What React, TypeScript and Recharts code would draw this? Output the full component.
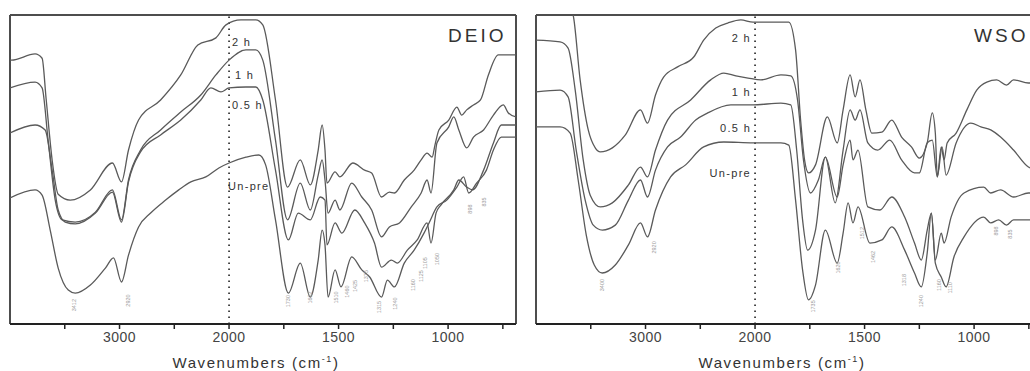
import React from "react";
import { LineChart, Line, XAxis, YAxis, ReferenceLine, ReferenceDot } from "recharts";

// wavenumber axis is split: 4000-2000 at half scale, 2000-690 at full scale
const toT = (w: number) => (w >= 2000 ? (4000 - w) / 2 : 1000 + (2000 - w));
const fromT = (t: number) => (t <= 1000 ? 4000 - 2 * t : 2000 - (t - 1000));
const T_MAX = toT(690);

const tickWaves = [3500, 3000, 2500, 2000, 1750, 1500, 1250, 1000, 750];
const labelledWaves = [3000, 2000, 1500, 1000];

// [wavenumber, transmittance a.u.]
const deio2h: [number, number][] = [
  [4000, 85.4], [3985, 85.4], [3771, 87.4], [3707, 86], [3670, 72.8], [3615, 53], [3560, 42], [3450, 40.1],
  [3266, 43.4], [3065, 52.1], [2982, 46], [2918, 56.3], [2826, 66], [2625, 72.5], [2441, 80.6], [2285, 90.3],
  [2120, 92.6], [2028, 96.8], [1946, 98.4], [1878, 98.4], [1846, 96.8], [1788, 72.5], [1733, 44.3], [1675, 53.1],
  [1629, 45], [1593, 56.3], [1575, 64.4], [1562, 56.3], [1553, 45.6], [1516, 49.2], [1494, 47.6], [1435, 52.1],
  [1381, 49.8], [1349, 48.9], [1304, 41.1], [1268, 42.7], [1245, 42.4], [1200, 46.6], [1155, 49.8], [1123, 53.1],
  [1096, 55.3], [1073, 54], [1060, 57.9], [1042, 62.8], [997, 66], [960, 70.2], [938, 67.6], [915, 69.3],
  [884, 70.9], [852, 72.5], [816, 80.6], [771, 87.1], [690, 87.1],
];
const deio1h: [number, number][] = [
  [4000, 76.4], [3771, 78.3], [3707, 76.4], [3652, 59.5], [3587, 40.1], [3523, 33.7], [3404, 33], [3220, 36.2],
  [3065, 43.4], [2982, 33.7], [2918, 46.6], [2808, 56.3], [2625, 62.8], [2441, 68.6], [2258, 74.1], [2120, 80.6],
  [2000, 85.4], [1923, 88.7], [1878, 88.7], [1846, 85.4], [1788, 59.5], [1733, 33.7], [1675, 45.6], [1629, 36.9],
  [1593, 48.2], [1575, 53.1], [1562, 46.6], [1548, 35.9], [1516, 40.1], [1494, 36.9], [1440, 45.6], [1394, 41.1],
  [1349, 36.9], [1304, 28.2], [1268, 31.4], [1222, 32.7], [1168, 37.9], [1123, 42.4], [1096, 46.6], [1078, 42.4],
  [1051, 58.6], [997, 63.8], [974, 67], [951, 62.8], [915, 57], [884, 60.5], [838, 62.8], [793, 67.6],
  [748, 70.9], [725, 68.3], [690, 67],
];
const deio05h: [number, number][] = [
  [4000, 61.8], [3771, 64.4], [3679, 62.8], [3615, 49.8], [3560, 36.9], [3496, 33], [3404, 32.4], [3220, 35.9],
  [3065, 42.7], [2982, 33], [2918, 46], [2808, 55.7], [2625, 61.2], [2441, 66], [2258, 72.5], [2166, 76.4],
  [2074, 75.1], [2000, 76.4], [1923, 76.7], [1878, 76.7], [1846, 72.5], [1788, 49.8], [1729, 27.2], [1684, 35.9],
  [1629, 33.7], [1584, 41.1], [1562, 40.1], [1553, 25.6], [1516, 32.7], [1485, 29.4], [1426, 36.9], [1381, 32.7],
  [1336, 26.2], [1304, 18.4], [1259, 20.7], [1232, 19.7], [1186, 23.9], [1141, 27.2], [1096, 32.7], [1078, 26.2],
  [1055, 35.9], [1033, 38.5], [974, 43.4], [951, 46.6], [915, 44.3], [888, 43.4], [838, 49.8], [793, 58.6],
  [757, 64.4], [690, 64.4],
];
const deioUnpre: [number, number][] = [
  [4000, 40.8], [3771, 43.4], [3707, 41.7], [3633, 30.4], [3560, 18.1], [3468, 11], [3404, 10], [3266, 12.6],
  [3129, 18.1], [3055, 21.4], [2982, 13.6], [2918, 22.3], [2826, 31.4], [2716, 35.9], [2579, 40.1], [2459, 43.4],
  [2349, 46], [2212, 47.6], [2093, 50.5], [2000, 52.1], [1923, 54], [1864, 54.7], [1833, 51.5], [1788, 33.7],
  [1729, 10], [1675, 19.7], [1629, 8.7], [1593, 20.7], [1575, 30.4], [1562, 25.6], [1548, 8.7], [1516, 17.5],
  [1489, 12], [1440, 21.7], [1394, 17.5], [1358, 15.2], [1304, 8.7], [1277, 14.2], [1245, 12], [1200, 19.7],
  [1155, 23.9], [1110, 29.4], [1087, 32.7], [1051, 37.9], [1006, 40.1], [960, 44.3], [929, 47.6], [906, 42.4],
  [870, 45.6], [825, 49.8], [793, 56.3], [757, 60.5], [690, 60.5],
];

const wso2h: [number, number][] = [
  [4000, 122], [3826, 112], [3661, 100], [3597, 79], [3523, 62.8], [3459, 57], [3413, 55.7], [3303, 57],
  [3184, 61.2], [3046, 69.3], [2982, 65], [2909, 74.1], [2835, 79.9], [2707, 83.2], [2560, 86.4], [2469, 91.9],
  [2359, 95.8], [2249, 97.4], [2130, 98.4], [2018, 97.7], [1950, 97.7], [1846, 97.7], [1815, 88.7], [1792, 66],
  [1774, 53.1], [1756, 48.9], [1724, 51.5], [1670, 67], [1625, 58.6], [1598, 69.3], [1566, 80.6], [1543, 73.5],
  [1521, 79], [1494, 69.3], [1467, 61.8], [1421, 62.1], [1376, 66], [1331, 60.5], [1286, 57.3], [1250, 53.7],
  [1214, 58.6], [1191, 68.3], [1177, 61.8], [1168, 47.6], [1150, 57.3], [1137, 53.1], [1123, 58.6], [1082, 61.8],
  [1033, 69.3], [988, 75.7], [942, 78.3], [897, 79], [852, 77.3], [820, 79], [752, 78], [690, 78],
];
const wso1h: [number, number][] = [
  [4000, 91.9], [3780, 91.3], [3707, 89.3], [3642, 75.7], [3569, 53.1], [3505, 41.7], [3413, 37.9], [3303, 39.2],
  [3156, 45], [3046, 50.8], [2982, 47.6], [2909, 56.3], [2799, 66], [2588, 72.5], [2405, 79], [2285, 81.2],
  [2175, 80.3], [2064, 79.6], [1973, 79], [1882, 80.6], [1837, 80.3], [1806, 72.5], [1779, 53.1], [1747, 42.4],
  [1711, 46.6], [1679, 54], [1634, 39.2], [1598, 56.3], [1566, 69.3], [1543, 66], [1521, 69.3], [1485, 58.6],
  [1440, 56.3], [1385, 59.5], [1331, 53.1], [1272, 48.9], [1250, 48.9], [1214, 58.6], [1191, 59.5], [1168, 47.6],
  [1146, 57.3], [1128, 48.2], [1082, 58.6], [1015, 65], [969, 63.8], [924, 62.8], [879, 60.5], [820, 56.3],
  [752, 50.8], [690, 49.5],
];
const wso05h: [number, number][] = [
  [4000, 75.1], [3780, 75.7], [3707, 73.5], [3633, 56.3], [3551, 40.1], [3477, 32], [3395, 30.4], [3276, 32],
  [3156, 40.1], [3046, 46.6], [2982, 41.1], [2909, 49.8], [2799, 57.3], [2680, 60.5], [2542, 66], [2432, 68.3],
  [2221, 70.9], [2018, 70.9], [1882, 71.5], [1837, 70.9], [1810, 56.3], [1783, 33.7], [1760, 23.9], [1724, 30.4],
  [1679, 54], [1625, 41.1], [1598, 51.5], [1566, 59.5], [1553, 53.1], [1530, 56.3], [1485, 37.9], [1430, 36.9],
  [1376, 41.1], [1317, 34.6], [1272, 26.2], [1241, 20.7], [1214, 30.4], [1195, 35.9], [1177, 20.7], [1150, 29.4],
  [1137, 26.2], [1105, 34.6], [1046, 42.4], [956, 44.3], [924, 42.4], [879, 43.4], [820, 41.1], [752, 42.4],
  [690, 42],
];
const wsoUnpre: [number, number][] = [
  [4000, 63.8], [3780, 63.8], [3688, 61.8], [3615, 46.6], [3541, 28.8], [3468, 19.1], [3395, 16.5], [3276, 19.1],
  [3156, 25.6], [3046, 32.7], [2982, 28.2], [2909, 36.9], [2771, 47.6], [2634, 51.5], [2469, 57.3], [2285, 58.9],
  [2018, 58.6], [1882, 58.6], [1846, 57.9], [1815, 40.1], [1783, 17.5], [1756, 7.8], [1724, 12.6], [1679, 30.4],
  [1625, 19.7], [1598, 29.4], [1575, 39.2], [1553, 32.7], [1530, 37.9], [1476, 26.2], [1421, 27.2], [1376, 31.4],
  [1317, 23.9], [1272, 16.5], [1241, 12], [1214, 23], [1195, 35.9], [1177, 19.7], [1150, 15.2], [1128, 12],
  [1092, 21.7], [1046, 28.2], [956, 34.6], [924, 32.7], [888, 33.7], [852, 32], [820, 33.7], [752, 33.7],
  [690, 33.5],
];

const curveNames = ["2 h", "1 h", "0.5 h", "Un-pre"];
const deioLabelLevels = [91.3, 80.6, 70.9, 44.7];
const wsoLabelLevels = [92.6, 75.1, 63.4, 48.9];

// small peak marks under the bands: [wavenumber, level]
const deioPeaks: [number, number][] = [
  [3412, 6.1], [2920, 7.6], [1730, 7.4], [1632, 8.6], [1510, 8.6], [1460, 10.5], [1425, 12.3], [1375, 15.5],
  [1315, 5.5], [1240, 6.6], [1160, 12.6], [1125, 15.5], [1105, 19.7], [1050, 21], [898, 37.2], [835, 39.5],
];
const wsoPeaks: [number, number][] = [
  [3400, 12.6], [2920, 24.8], [1735, 5.7], [1620, 18.3], [1512, 29.4], [1462, 21.7], [1318, 14.2], [1240, 7.4],
  [1160, 12.6], [1110, 11.7], [898, 30.1], [835, 29.1],
];

const FONT = "'Liberation Sans', Arial, sans-serif";
const build = (pts: [number, number][]) => pts.map(([w, v]) => ({ t: toT(w), v }));

const AxisTitle = (props: any) => {
  const vb = props.viewBox;
  if (!vb) return null;
  return (
    <text x={vb.x + vb.width / 2 - 7} y={vb.y + 44} textAnchor="middle" fontFamily={FONT} fontSize={15} letterSpacing={1.6} fill="#333">
      Wavenumbers (cm
      <tspan dy={-6} fontSize={9}>-1</tspan>
      <tspan dy={6}>)</tspan>
    </text>
  );
};

interface PanelProps {
  title: string;
  series: [number, number][][];
  levels: number[];
  peaks: [number, number][];
  side: "left" | "right";
}

function Panel({ title, series, levels, peaks, side }: PanelProps) {
  return (
    <LineChart width={520} height={371} margin={{ top: 15, right: 4, left: 10, bottom: 17 }}>
      <XAxis
        dataKey="t"
        type="number"
        domain={[0, T_MAX]}
        allowDataOverflow
        ticks={tickWaves.map(toT)}
        tickFormatter={(t: number) => {
          const w = Math.round(fromT(t));
          return labelledWaves.includes(w) ? String(w) : "";
        }}
        tick={{ fontSize: 14, fill: "#444", fontFamily: FONT, letterSpacing: 0.5 }}
        tickSize={5}
        tickMargin={3}
        height={30}
        axisLine={{ stroke: "#222", strokeWidth: 2 }}
        tickLine={{ stroke: "#222", strokeWidth: 1.5 }}
        label={{ content: AxisTitle }}
      />
      <YAxis type="number" domain={[0, 100]} allowDataOverflow width={0} tick={false} tickLine={false} axisLine={false} />
      {/* frame */}
      <ReferenceLine y={100} stroke="#4d4d4d" strokeWidth={2} />
      <ReferenceLine x={0} stroke="#4d4d4d" strokeWidth={2} />
      <ReferenceLine x={T_MAX} stroke="#4d4d4d" strokeWidth={2} />
      <ReferenceLine x={toT(2000)} stroke="#111" strokeWidth={1.5} strokeDasharray="1.5 4.5" />
      {series.map((pts, i) => (
        <Line
          key={curveNames[i]}
          data={build(pts)}
          dataKey="v"
          type="monotoneX"
          stroke="#5a5a5a"
          strokeWidth={1.3}
          dot={false}
          isAnimationActive={false}
        />
      ))}
      {curveNames.map((name, i) => (
        <ReferenceDot
          key={"lab" + name}
          x={toT(2000)}
          y={levels[i]}
          r={0}
          shape={(p: any) => (
            <text
              x={side === "left" ? p.cx + (name === "Un-pre" ? -1 : name === "1 h" ? 6 : 3) : p.cx - 4}
              y={p.cy}
              dy="0.35em"
              textAnchor={side === "left" ? "start" : "end"}
              fontFamily={FONT}
              fontSize={11}
              letterSpacing={1.3}
              fill="#333"
            >
              {name}
            </text>
          )}
        />
      ))}
      {peaks.map(([w, v]) => (
        <ReferenceDot
          key={"pk" + w}
          x={toT(w)}
          y={v}
          r={0}
          shape={(p: any) => (
            <text
              x={p.cx}
              y={p.cy}
              transform={`rotate(-90 ${p.cx} ${p.cy})`}
              textAnchor="middle"
              dy="0.35em"
              fontFamily={FONT}
              fontSize={5.5}
              fill="#9a9a9a"
            >
              {w}
            </text>
          )}
        />
      ))}
      <ReferenceDot
        x={toT(1000)}
        y={93.5}
        r={0}
        shape={(p: any) => (
          <text x={p.cx} y={p.cy} dy="0.36em" fontFamily={FONT} fontSize={19} letterSpacing={3} fill="#333">
            {title}
          </text>
        )}
      />
    </LineChart>
  );
}

export default function App() {
  return (
    <div style={{ position: "absolute", left: 0, top: 0, width: 1030, height: 371, overflow: "hidden", background: "#fff" }}>
      <div style={{ position: "absolute", left: 0, top: 0 }}>
        <Panel title="DEIO" series={[deio2h, deio1h, deio05h, deioUnpre]} levels={deioLabelLevels} peaks={deioPeaks} side="left" />
      </div>
      <div style={{ position: "absolute", left: 526, top: 0 }}>
        <Panel title="WSO" series={[wso2h, wso1h, wso05h, wsoUnpre]} levels={wsoLabelLevels} peaks={wsoPeaks} side="right" />
      </div>
    </div>
  );
}
